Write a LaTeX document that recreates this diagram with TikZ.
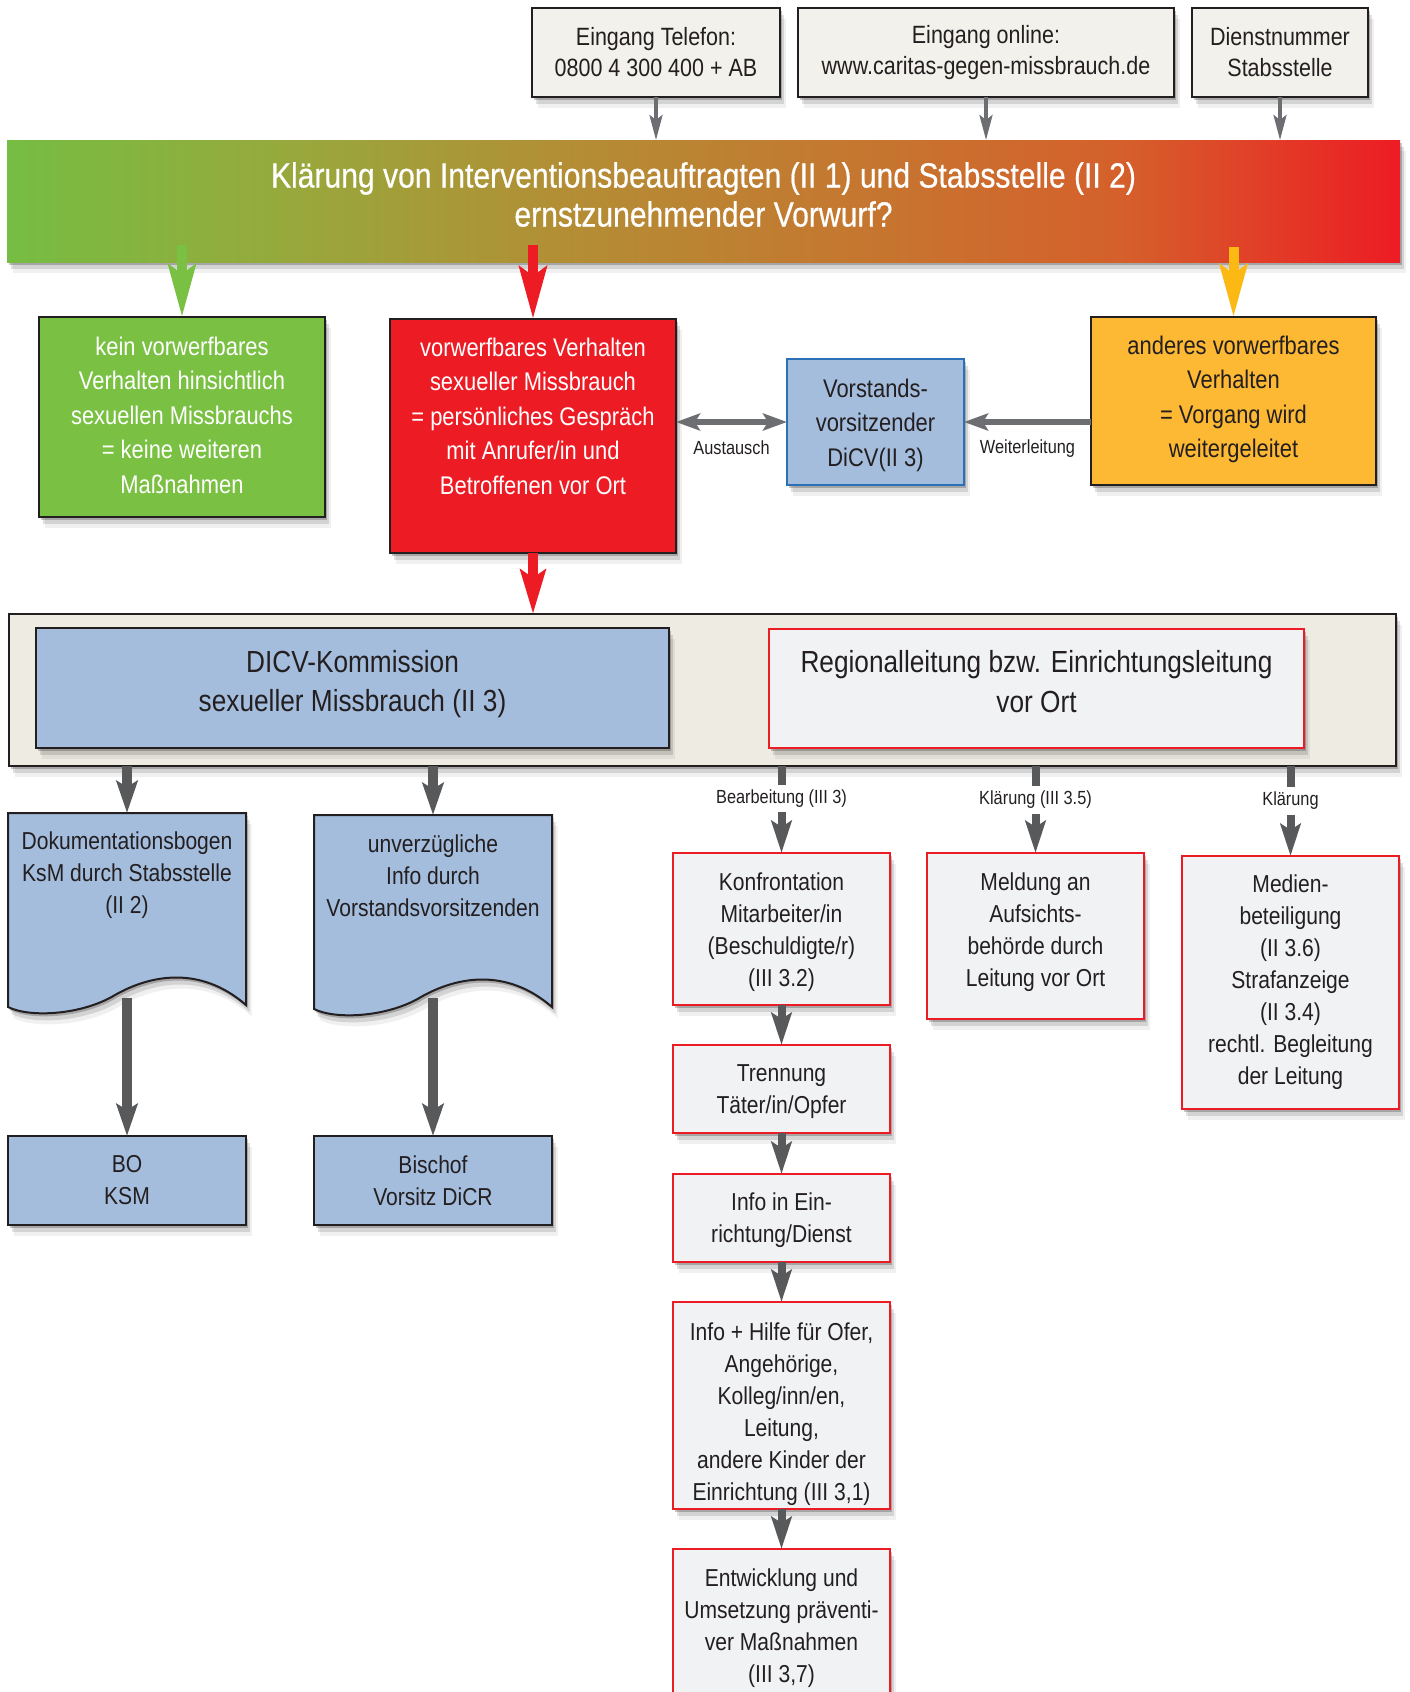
\documentclass[tikz,border=0pt]{standalone}
\usepackage{fontspec}
\setmainfont{Liberation Sans}[FakeStretch=0.86]
\newfontfamily\titlefont{Liberation Sans}[FakeStretch=0.86,FakeBold=0.5]
\usetikzlibrary{arrows.meta,shadows}
\definecolor{ink}{HTML}{231F20}
\definecolor{cgreen}{HTML}{7AC143}
\definecolor{cred}{HTML}{ED1C24}
\definecolor{corange}{HTML}{FDB933}
\definecolor{carrorange}{HTML}{FDB913}
\definecolor{cblue}{HTML}{A4BDDD}
\definecolor{cblueline}{HTML}{2B70B5}
\definecolor{cbeige}{HTML}{F2F1EB}
\definecolor{ccont}{HTML}{EEEBE3}
\definecolor{clight}{HTML}{F1F2F4}
\definecolor{agray}{HTML}{6D6E71}
\definecolor{dgray}{HTML}{58595B}
\definecolor{gA}{HTML}{76BD43}
\definecolor{gB}{HTML}{97A93C}
\definecolor{gC}{HTML}{B38E35}
\definecolor{gD}{HTML}{C47830}
\definecolor{gE}{HTML}{D5602B}
\definecolor{gF}{HTML}{ED1C24}
\pgfdeclarehorizontalshading{bargrad}{100bp}{color(0bp)=(gA); color(25bp)=(gA); color(35bp)=(gB); color(45bp)=(gC); color(55bp)=(gD); color(65bp)=(gE); color(75bp)=(gF); color(100bp)=(gF)}
\begin{document}
\begin{tikzpicture}[x=1pt,y=-1pt,
  every node/.style={inner sep=0pt,outer sep=0pt,text=ink,align=center},
  soft/.style={drop shadow={shadow xshift=1.5pt,shadow yshift=-3pt,opacity=.22,fill=black},
               drop shadow={shadow xshift=3.5pt,shadow yshift=-7pt,opacity=.12,fill=black},
               drop shadow={shadow xshift=5.5pt,shadow yshift=-11pt,opacity=.06,fill=black}},
  fbody/.style={font=\fontsize{24.5}{32}\selectfont},
  ftop/.style={font=\fontsize{25}{31}\selectfont},
  frow/.style={font=\fontsize{25.5}{34.5}\selectfont},
  fbig/.style={font=\fontsize{30.5}{39.5}\selectfont},
  ftitle/.style={font=\titlefont\fontsize{35}{39}\selectfont},
  fsmall/.style={font=\fontsize{19}{22}\selectfont},
  box/.style={rectangle,draw=ink,line width=2pt,soft},
  inbox/.style={box,fill=cbeige,ftop,minimum height=89pt},
  rbox/.style={box,draw=cred,line width=2.5pt,fill=clight,minimum width=217pt},
  bluebox/.style={box,fill=cblue,fbody,minimum width=238pt,minimum height=89pt},
  garr/.style={draw=agray,line width=3.5pt,-{Stealth[length=25pt,width=13pt,inset=5pt]}},
  carr/.style={line width=10pt,-{Stealth[length=52pt,width=27pt,inset=9pt]}},
  carrb/.style={line width=10pt,-{Stealth[length=44pt,width=25pt,inset=8pt]}},
  harr/.style={draw=agray,line width=6pt,{Stealth[length=24pt,width=17pt,inset=5pt]}-{Stealth[length=24pt,width=17pt,inset=5pt]}},
  warr/.style={draw=agray,line width=6pt,-{Stealth[length=24pt,width=17pt,inset=5pt]}},
  darr/.style={draw=dgray,line width=9.5pt,-{Stealth[length=32pt,width=21pt,inset=6pt]}},
  rarr/.style={draw=dgray,line width=8pt,-{Stealth[length=32pt,width=20pt,inset=6pt]}},
  lbl/.style={fill=white,fsmall,inner xsep=3pt,inner ysep=5pt},
  doc/.style={fill=cblue,draw=ink,line width=2pt,soft}
]
\useasboundingbox (0,0) rectangle (1410,1692);

% inputs
\node[inbox,minimum width=248pt] (tel) at (656,52.5) {Eingang Telefon:\\0800 4 300 400 + AB};
\node[inbox,minimum width=376pt] (web) at (986,52.5) {Eingang online:\\www.caritas-gegen-missbrauch.de};
\node[inbox,minimum width=176pt] (dienst) at (1280,52.5) {Dienstnummer\\Stabsstelle};

% gradient bar
\node[soft,shade,shading=bargrad,minimum width=1393pt,minimum height=122pt] (bar) at (703.5,201) {};
\node[ftitle,text=white] (title) at (703.5,194.5) {Klärung von Interventionsbeauftragten (II 1) und Stabsstelle (II 2)\\ernstzunehmender Vorwurf?};

% second row
\node[box,fill=cgreen,minimum width=286pt,minimum height=200pt] (green) at (182,417) {};
\node[frow,text=white] (greent) at (182,415)
  {kein vorwerfbares\\Verhalten hinsichtlich\\sexuellen Missbrauchs\\= keine weiteren\\Maßnahmen};
\node[box,fill=cred,minimum width=286pt,minimum height=234pt] (red) at (533,436) {};
\node[frow,text=white] (redt) at (533,416)
  {vorwerfbares Verhalten\\sexueller Missbrauch\\= persönliches Gespräch\\mit Anrufer/in und\\Betroffenen vor Ort};
\node[box,draw=cblueline,fill=cblue,minimum width=177pt,minimum height=126pt] (vors) at (875.5,422) {};
\node[frow] (vorst) at (875.5,425) {Vorstands-\\vorsitzender\\DiCV(II 3)};
\node[box,fill=corange,minimum width=285pt,minimum height=168pt] (orange) at (1233.5,401) {};
\node[frow] (oranget) at (1233.5,399.5) {anderes vorwerfbares\\Verhalten\\= Vorgang wird\\weitergeleitet};

% container
\node[box,fill=ccont,minimum width=1387pt,minimum height=152pt] (cont) at (702.5,690) {};
\node[box,fill=cblue,minimum width=633pt,minimum height=120pt] (dicv) at (352.5,688) {};
\node[fbig] (dicvt) at (352.5,684) {DICV-Kommission\\sexueller Missbrauch (II 3)};
\node[box,draw=cred,line width=2.5pt,fill=clight,minimum width=535pt,minimum height=119pt] (regio) at (1036.5,688.5) {};
\node[fbig] (regiot) at (1036.5,681.5) {Regionalleitung bzw. Einrichtungsleitung\\vor Ort};

% documents
\path[doc] (8,813) -- (246,813) -- (246,1005) .. controls (200,965) and (150,975) .. (115,995)
  .. controls (82,1015) and (30,1018) .. (8,1007) -- cycle;
\begin{scope}[shift={(306,2)}]
\path[doc] (8,813) -- (246,813) -- (246,1005) .. controls (200,965) and (150,975) .. (115,995)
  .. controls (82,1015) and (30,1018) .. (8,1007) -- cycle;
\end{scope}
\node[minimum width=238pt,minimum height=185pt] (doc1) at (127,905.5) {};
\node[minimum width=238pt,minimum height=183pt] (doc2) at (433,906.5) {};
\node[fbody] (doc1t) at (127,875) {Dokumentationsbogen\\KsM durch Stabsstelle\\(II 2)};
\node[fbody] (doc2t) at (433,876) {unverzügliche\\Info durch\\Vorstandsvorsitzenden};

\node[bluebox] (bo) at (127,1180.5) {BO\\KSM};
\node[bluebox] (bischof) at (433,1180.5) {Bischof\\Vorsitz DiCR};

% right column
\node[rbox,minimum height=152pt] (konf) at (781.5,929) {};
\node[fbody] (konft) at (781.5,932.5) {Konfrontation\\Mitarbeiter/in\\(Beschuldigte/r)\\(III 3.2)};
\node[rbox,minimum height=166pt] (meld) at (1035.5,936) {};
\node[fbody] (meldt) at (1035.5,932.5) {Meldung an\\Aufsichts-\\behörde durch\\Leitung vor Ort};
\node[rbox,minimum height=253pt] (medien) at (1290.5,982.5) {};
\node[fbody] (medient) at (1290.5,982.5) {Medien-\\beteiligung\\(II 3.6)\\Strafanzeige\\(II 3.4)\\rechtl. Begleitung\\der Leitung};
\node[rbox,minimum height=88pt] (trenn) at (781.5,1089) {};
\node[fbody] (trennt) at (781.5,1092) {Trennung\\Täter/in/Opfer};
\node[rbox,minimum height=88pt] (infoein) at (781.5,1218) {};
\node[fbody] (infoeint) at (781.5,1220) {Info in Ein-\\richtung/Dienst};
\node[rbox,minimum height=207pt] (hilfe) at (781.5,1405.5) {};
\node[fbody] (hilfet) at (781.5,1414) {Info + Hilfe für Ofer,\\Angehörige,\\Kolleg/inn/en,\\Leitung,\\andere Kinder der\\Einrichtung (III 3,1)};
\node[rbox,minimum height=182pt] (entw) at (781.5,1640) {};
\node[fbody] (entwt) at (781.5,1628) {Entwicklung und\\Umsetzung präventi-\\ver Maßnahmen\\(III 3,7)};

% connectors: inputs to bar
\draw[garr] (tel.south) -- (bar.north -| tel.south);
\draw[garr] (web.south) -- (bar.north -| web.south);
\draw[garr] (dienst.south) -- (bar.north -| dienst.south);

% bar to outcomes
\coordinate (gs) at (182,245);
\coordinate (rs) at (533,245);
\coordinate (os) at (1233.5,247);
\draw[carr,draw=cgreen] (gs) -- (green.north);
\draw[carr,draw=cred] (rs) -- (red.north);
\draw[carr,draw=carrorange] (os) -- (orange.north);

% exchange / forwarding
\draw[harr] (red.east |- vors.west) -- node[fsmall,yshift=-26pt] (aust) {Austausch} (vors.west);
\draw[warr] (orange.west |- vors.east) -- node[fsmall,yshift=-27pt] (weit) {Weiterleitung} (vors.east);

% red to container
\draw[carrb,draw=cred] (red.south) -- (cont.north -| red.south);

% container to left documents
\draw[darr] (cont.south -| doc1.north) -- (doc1.north);
\draw[darr] (cont.south -| doc2.north) -- (doc2.north);
\draw[darr] (doc1.south) -- (bo.north);
\draw[darr] (doc2.south) -- (bischof.north);

% container to right column
\draw[rarr] (cont.south -| konf.north) -- node[lbl,pos=.375] (l1) {Bearbeitung (III 3)} (konf.north);
\draw[rarr] (cont.south -| meld.north) -- node[lbl,pos=.39] (l2) {Klärung (III 3.5)} (meld.north);
\draw[rarr] (cont.south -| medien.north) -- node[lbl,pos=.385] (l3) {Klärung} (medien.north);

% chain
\draw[rarr] (konf.south) -- (trenn.north);
\draw[rarr] (trenn.south) -- (infoein.north);
\draw[rarr] (infoein.south) -- (hilfe.north);
\draw[rarr] (hilfe.south) -- (entw.north);
\end{tikzpicture}
\end{document}
